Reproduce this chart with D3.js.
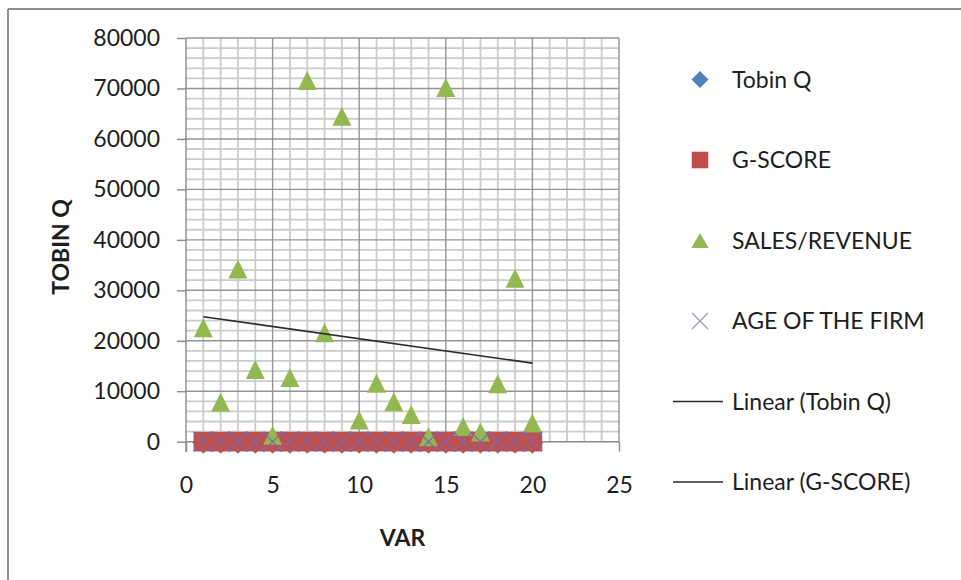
<!DOCTYPE html>
<html>
<head>
<meta charset="utf-8">
<script src="https://cdn.jsdelivr.net/npm/d3@7/dist/d3.min.js"></script>
<style>
  html, body { margin: 0; padding: 0; background: #fff; }
  svg { display: block; font-family: Lato, "Open Sans", sans-serif; }
</style>
</head>
<body>
<svg id="chart" width="961" height="580"></svg>
<script>
// Observation number of each firm (x axis "VAR")
const firmIndex = [1, 2, 3, 4, 5, 6, 7, 8, 9, 10, 11, 12, 13, 14, 15, 16, 17, 18, 19, 20];

// Series values, one per firm
const tobinQ = [1.2, 0.8, 1.5, 0.9, 1.1, 0.7, 1.8, 1.0, 1.4, 0.6, 1.3, 0.9, 1.1, 0.8, 1.6, 0.7, 1.0, 1.2, 1.5, 0.9];
const gScore = [12, 10, 14, 11, 9, 13, 15, 12, 10, 11, 13, 9, 12, 10, 14, 11, 12, 13, 10, 12];
const salesRevenue = [22600, 7800, 34200, 14300, 1300, 12700, 71600, 21600, 64500, 4300,
                      11600, 7900, 5400, 1000, 70200, 3000, 1900, 11500, 32400, 3700];
const ageOfFirm = [25, 18, 40, 32, 12, 28, 55, 36, 47, 15, 22, 30, 19, 9, 60, 14, 21, 33, 44, 17];

// Axis ticks
const yTicks = [0, 10000, 20000, 30000, 40000, 50000, 60000, 70000, 80000];
const xTicks = [0, 5, 10, 15, 20, 25];

// Legend entries
const legendLabels = ["Tobin Q", "G-SCORE", "SALES/REVENUE", "AGE OF THE FIRM", "Linear (Tobin Q)", "Linear (G-SCORE)"];

const svg = d3.select("#chart");

// Outer chart frame (left and top edges)
svg.append("line").attr("x1", 8).attr("y1", 9).attr("x2", 961).attr("y2", 9)
  .attr("stroke", "#8e8e8e").attr("stroke-width", 2);
svg.append("line").attr("x1", 8).attr("y1", 9).attr("x2", 8).attr("y2", 580)
  .attr("stroke", "#8e8e8e").attr("stroke-width", 2);

const plot = { left: 186, right: 619, top: 38, bottom: 441.7 };

const x = d3.scaleLinear().domain([0, 25]).range([plot.left, plot.right]);
const y = d3.scaleLinear().domain([0, 80000]).range([plot.bottom, plot.top]);

const grid = svg.append("g");

// Minor gridlines
grid.selectAll("line.minor-v")
  .data(d3.range(1, 25).filter(v => v % 5 !== 0))
  .join("line").attr("class", "minor-v")
  .attr("x1", d => x(d)).attr("x2", d => x(d))
  .attr("y1", plot.top).attr("y2", plot.bottom)
  .attr("stroke", "#cbcbcb").attr("stroke-width", 1.8);
grid.selectAll("line.minor-h")
  .data(d3.range(2000, 80000, 2000).filter(v => v % 10000 !== 0))
  .join("line").attr("class", "minor-h")
  .attr("x1", plot.left).attr("x2", plot.right)
  .attr("y1", d => y(d)).attr("y2", d => y(d))
  .attr("stroke", "#cbcbcb").attr("stroke-width", 1.8);

// Major gridlines
grid.selectAll("line.major-v")
  .data(xTicks.slice(1))
  .join("line").attr("class", "major-v")
  .attr("x1", d => x(d)).attr("x2", d => x(d))
  .attr("y1", plot.top).attr("y2", plot.bottom)
  .attr("stroke", "#959595").attr("stroke-width", 1.4);
grid.selectAll("line.major-h")
  .data(yTicks.slice(1))
  .join("line").attr("class", "major-h")
  .attr("x1", plot.left).attr("x2", plot.right)
  .attr("y1", d => y(d)).attr("y2", d => y(d))
  .attr("stroke", "#959595").attr("stroke-width", 1.4);

// Axes
const yAxis = svg.append("g")
  .attr("transform", `translate(${plot.left},0)`)
  .call(d3.axisLeft(y).tickValues(yTicks).tickFormat(d3.format("d")).tickSize(9).tickPadding(17));
const xAxis = svg.append("g")
  .attr("transform", `translate(0,${plot.bottom})`)
  .call(d3.axisBottom(x).tickValues(xTicks).tickFormat(d3.format("d")).tickSize(10).tickPadding(25));
[yAxis, xAxis].forEach(a => {
  a.select(".domain").attr("stroke", "#8a8a8a").attr("stroke-width", 1.4);
  a.selectAll(".tick line").attr("stroke", "#8a8a8a").attr("stroke-width", 1.4);
  a.selectAll(".tick text").attr("fill", "#1e1e1e")
    .style("font-size", "23px").style("font-family", "Lato, sans-serif");
});
xAxis.select(".domain").attr("d", `M${plot.left},0H${plot.right}`);
yAxis.select(".domain").attr("d", `M0,${plot.top}V${plot.bottom + 10}`);

// Axis titles
svg.append("text")
  .attr("transform", `translate(69,247) rotate(-90)`)
  .attr("text-anchor", "middle")
  .attr("fill", "#1e1e1e")
  .style("font-size", "23px").style("font-weight", "bold")
  .text("TOBIN Q");
svg.append("text")
  .attr("x", (plot.left + plot.right) / 2).attr("y", 546)
  .attr("text-anchor", "middle")
  .attr("fill", "#1e1e1e")
  .style("font-size", "23px").style("font-weight", "bold")
  .text("VAR");

// Marker shapes
const shapes = {
  diamond: r => `M0,${-r}L${r},0L0,${r}L${-r},0Z`,
  square: r => `M${-r},${-r}H${r}V${r}H${-r}Z`,
  triangle: (w, h) => `M0,${-h / 2}L${w / 2},${h / 2}L${-w / 2},${h / 2}Z`,
  cross: r => `M${-r},${-r}L${r},${r}M${r},${-r}L${-r},${r}`
};

// Least-squares line through (firmIndex, values)
function linearFit(xs, ys) {
  const mx = d3.mean(xs), my = d3.mean(ys);
  const sxy = d3.sum(xs, (v, i) => (v - mx) * (ys[i] - my));
  const sxx = d3.sum(xs, v => (v - mx) * (v - mx));
  const slope = sxy / sxx;
  return v => my + slope * (v - mx);
}
const xFirst = d3.min(firmIndex), xLast = d3.max(firmIndex);

const marks = svg.append("g");

// G-SCORE trend
const gFit = linearFit(firmIndex, gScore);
marks.append("line")
  .attr("x1", x(xFirst)).attr("y1", y(gFit(xFirst)))
  .attr("x2", x(xLast)).attr("y2", y(gFit(xLast)))
  .attr("stroke", "#333").attr("stroke-width", 1.5);

// Tobin Q diamonds
marks.selectAll("path.tq").data(firmIndex).join("path").attr("class", "tq")
  .attr("transform", (d, i) => `translate(${x(d)},${y(tobinQ[i]) + 1})`)
  .attr("d", shapes.diamond(11))
  .attr("fill", "#4f81bd");

// G-SCORE squares
marks.selectAll("path.gs").data(firmIndex).join("path").attr("class", "gs")
  .attr("transform", (d, i) => `translate(${x(d)},${y(gScore[i])})`)
  .attr("d", shapes.square(9.8))
  .attr("fill", "#c0504d");

// Sales / revenue triangles
marks.selectAll("path.sr").data(firmIndex).join("path").attr("class", "sr")
  .attr("transform", (d, i) => `translate(${x(d)},${y(salesRevenue[i])})`)
  .attr("d", shapes.triangle(19, 19))
  .attr("fill", "#93b852");

// Age of the firm crosses
marks.selectAll("path.af").data(firmIndex).join("path").attr("class", "af")
  .attr("transform", (d, i) => `translate(${x(d)},${y(ageOfFirm[i])})`)
  .attr("d", shapes.cross(9.8))
  .attr("fill", "none")
  .attr("stroke", "#7d68ad").attr("stroke-width", 1.3);

// Tobin Q trend line
const tqFit = linearFit(firmIndex, salesRevenue);
marks.append("line")
  .attr("x1", x(xFirst)).attr("y1", y(tqFit(xFirst)))
  .attr("x2", x(xLast)).attr("y2", y(tqFit(xLast)))
  .attr("stroke", "#2b2b2b").attr("stroke-width", 1.6);

// Legend
const legend = svg.append("g");
const rowY = d3.scaleLinear().domain([0, 5]).range([79.5, 482]);
const markX = 700, textX = 732;

legend.append("path").attr("transform", `translate(${markX},${rowY(0)})`)
  .attr("d", shapes.diamond(8.5)).attr("fill", "#4f81bd");
legend.append("path").attr("transform", `translate(${markX},${rowY(1)})`)
  .attr("d", shapes.square(8.3)).attr("fill", "#c0504d");
legend.append("path").attr("transform", `translate(${markX},${rowY(2)})`)
  .attr("d", shapes.triangle(17, 15)).attr("fill", "#93b852");
legend.append("path").attr("transform", `translate(${markX},${rowY(3)})`)
  .attr("d", shapes.cross(8)).attr("fill", "none")
  .attr("stroke", "#a393c6").attr("stroke-width", 1.3);
[4, 5].forEach(i => {
  legend.append("line")
    .attr("x1", 673).attr("x2", 723)
    .attr("y1", rowY(i)).attr("y2", rowY(i))
    .attr("stroke", "#2b2b2b").attr("stroke-width", 1.5);
});
legend.selectAll("text").data(legendLabels).join("text")
  .attr("x", textX).attr("y", (d, i) => rowY(i) + 8)
  .attr("fill", "#1e1e1e")
  .style("font-size", "23px")
  .text(d => d);
</script>
</body>
</html>
